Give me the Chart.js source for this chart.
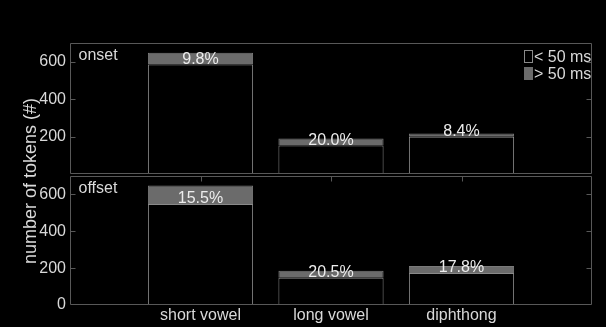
<!DOCTYPE html>
<html><head><meta charset="utf-8">
<script src="https://cdn.jsdelivr.net/npm/chart.js@4/dist/chart.umd.min.js"></script>
<style>
html,body{margin:0;padding:0;background:#000;width:606px;height:327px;overflow:hidden}
canvas{position:absolute;left:0;top:0}
</style></head><body>
<canvas id="c1" width="606" height="327"></canvas>
<canvas id="c2" width="606" height="327"></canvas>
<script>
const categories = ['short vowel', 'long vowel', 'diphthong'];
const onsetBelow = [585, 152, 199];
const onsetAbove = [63, 38, 18];
const onsetPct = ['9.8%', '20.0%', '8.4%'];
const offsetBelow = [548, 148, 174];
const offsetAbove = [100, 38, 38];
const offsetPct = ['15.5%', '20.5%', '17.8%'];
const topTicks = [200, 400, 600];
const bottomTicks = [0, 200, 400, 600];
const yMax = 700;
const seriesNames = ['< 50 ms', '> 50 ms'];
const panelNames = ['onset', 'offset'];
const yTitle = 'number of tokens (#)';

const FAM = '"Liberation Sans", Arial, Helvetica, sans-serif';
const TXT = '#d9d9d9';
const AX = '#585858';
const GRAY = '#6b6b6b';
const EDGE = '#8a8a8a';

const pad = a => [null, ...a, null];
const labels = ['', ...categories, ''];

function panelPlugin(panelName, pcts, isTop, yTicks) {
  return {
    id: 'panel',
    afterDraw(chart) {
      const ctx = chart.ctx;
      const a = chart.chartArea;
      const xs = chart.scales.x, ys = chart.scales.y;
      ctx.save();
      ctx.strokeStyle = AX;
      ctx.lineWidth = 1;
      const L = Math.round(a.left) + 0.5, R = Math.round(a.right) - 0.5;
      const T = Math.round(a.top) + 0.5, B = Math.round(a.bottom) - 0.5;
      ctx.beginPath();
      ctx.rect(L, T, R - L, B - T);
      ctx.stroke();
      ctx.beginPath();
      yTicks.forEach(v => {
        const y = Math.round(ys.getPixelForValue(v)) + 0.5;
        if (v > 0) {
          ctx.moveTo(L, y); ctx.lineTo(L + 5, y);
          ctx.moveTo(R, y); ctx.lineTo(R - 5, y);
        }
      });
      if (!isTop) {
        categories.forEach((c, i) => {
          const x = Math.round(xs.getPixelForValue(i + 1)) + 0.5;
          ctx.moveTo(x, T); ctx.lineTo(x, T + 5);
        });
      }
      ctx.stroke();
      ctx.fillStyle = '#ececec';
      ctx.font = '16px ' + FAM;
      ctx.textAlign = 'center';
      ctx.textBaseline = 'alphabetic';
      const meta = chart.getDatasetMeta(0);
      pcts.forEach((p, i) => {
        const el = meta.data[i + 1];
        ctx.fillText(p, el.x, el.y - 1);
      });
      ctx.fillStyle = TXT;
      ctx.textAlign = 'left';
      ctx.fillText(panelName, 78.5, isTop ? 60 : 193.3);
      if (isTop) {
        const ds = chart.data.datasets;
        ctx.fillStyle = '#000';
        ctx.fillRect(524, 50, 9, 13);
        ctx.strokeStyle = EDGE;
        ctx.strokeRect(524.5, 50.5, 8, 12);
        ctx.fillStyle = GRAY;
        ctx.fillRect(524, 67, 9, 13);
        ctx.fillStyle = TXT;
        ctx.fillText(ds[0].label, 534, 61.7);
        ctx.fillText(ds[1].label, 534, 79);
        ctx.save();
        ctx.font = '18px ' + FAM;
        ctx.translate(35.5, 181);
        ctx.rotate(-Math.PI / 2);
        ctx.textAlign = 'center';
        ctx.fillText(yTitle, 0, 0);
        ctx.restore();
      }
      ctx.restore();
    }
  };
}

function makeChart(id, below, above, pcts, panelName, isTop, yTicks) {
  const xOpts = {
    type: 'category', offset: false, stacked: true, display: !isTop,
    grid: { display: false, drawTicks: false }, border: { display: false },
    ticks: { color: TXT, font: { family: FAM, size: 16 }, padding: 1, maxRotation: 0, autoSkip: false }
  };
  if (!isTop) xOpts.afterFit = s => { s.height = 22; };
  return new Chart(document.getElementById(id), {
    type: 'bar',
    data: {
      labels: labels,
      datasets: [
        { label: seriesNames[0], data: pad(below), backgroundColor: '#000', borderColor: EDGE, borderWidth: 1 },
        { label: seriesNames[1], data: pad(above), backgroundColor: GRAY, borderColor: '#7a7a7a', borderWidth: 1 }
      ]
    },
    options: {
      responsive: false,
      animation: false,
      events: [],
      categoryPercentage: 0.806,
      barPercentage: 1,
      layout: { padding: isTop ? { left: 0, right: 14, top: 43, bottom: 153 } : { left: 0, right: 14, top: 176, bottom: 0 } },
      plugins: { legend: { display: false }, tooltip: { enabled: false } },
      scales: {
        x: xOpts,
        y: {
          min: 0, max: yMax, stacked: true,
          afterFit(s) { s.width = 70; },
          afterBuildTicks(s) { s.ticks = yTicks.map(v => ({ value: v })); },
          grid: { display: false, drawTicks: false }, border: { display: false },
          ticks: { color: TXT, font: { family: FAM, size: 16 }, padding: 4 }
        }
      }
    },
    plugins: [panelPlugin(panelName, pcts, isTop, yTicks)]
  });
}

makeChart('c1', onsetBelow, onsetAbove, onsetPct, panelNames[0], true, topTicks);
makeChart('c2', offsetBelow, offsetAbove, offsetPct, panelNames[1], false, bottomTicks);
</script>
</body></html>
